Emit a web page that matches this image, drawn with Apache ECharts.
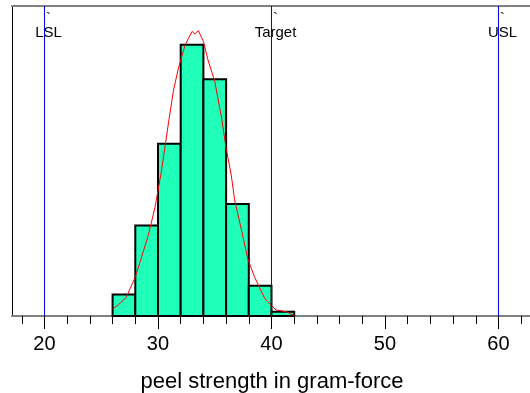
<!DOCTYPE html>
<html><head>
<meta charset="UTF-8">
<title>peel strength</title>
<script src="https://cdn.jsdelivr.net/npm/echarts@6/dist/echarts.min.js"></script>
</head>
<body style="margin:0;background:#fff;">
<div id="main" style="width:530px;height:393px;"></div>
<script type="text/javascript">
// histogram bins (edges) and counts
var binEdges = [26, 28, 30, 32, 34, 36, 38, 40, 42];
var counts = [5, 21, 40, 63, 55, 26, 7, 1];
// fitted curve
var curveX = [26.0, 26.5, 27.2, 28.0, 28.5, 29.15, 29.75, 30.3, 30.9, 31.35, 31.8, 32.4, 33.0, 33.25, 33.55, 34.0, 34.4, 35.0, 35.6, 36.0, 36.45, 36.75, 37.35, 37.9, 38.5, 39.4, 40.0, 40.4, 41.3, 42.0];
var curveY = [1.6, 2.6, 4.3, 9.1, 13.2, 18.8, 25.4, 33.6, 44.4, 52.2, 57.6, 63.0, 66.1, 65.5, 66.3, 63.8, 59.5, 54.5, 46.0, 39.0, 32.8, 27.0, 20.0, 13.4, 9.1, 4.1, 2.4, 1.4, 1.0, 0.1];
// spec limits
var specNames = ['LSL', 'Target', 'USL'];
var specValues = [20, 40, 60];
// axis ticks
var majorTicks = [20, 30, 40, 50, 60];
var minorTicks = [18, 20, 22, 24, 26, 28, 30, 32, 34, 36, 38, 40, 42, 44, 46, 48, 50, 52, 54, 56, 58, 60, 62];

var font = 'Liberation Sans, Arial, sans-serif';
var xMin = 17.137, xMax = 62.952, yMax = 72;
var bars = [];
for (var i = 0; i < counts.length; i++) {
	bars.push([binEdges[i], binEdges[i + 1], counts[i]]);
}
var curve = [];
for (var j = 0; j < curveX.length; j++) {
	curve.push([curveX[j], curveY[j]]);
}
var specs = [];
for (var k = 0; k < specValues.length; k++) {
	specs.push([specValues[k], 0]);
}

var option = {
	animation: false,
	grid: {left: 12, right: -2, top: 6, bottom: 77, show: false, outerBoundsMode: 'none', containLabel: false},
	xAxis: [{
		type: 'value', min: xMin, max: xMax, position: 'bottom',
		name: 'peel strength in gram-force', nameLocation: 'middle', nameGap: 55,
		nameTextStyle: {fontSize: 22, color: '#000', fontFamily: font},
		axisLine: {show: true, onZero: false, lineStyle: {color: '#808080', width: 2}},
		axisTick: {show: true, customValues: minorTicks, length: 8, lineStyle: {color: '#000', width: 1}},
		axisLabel: {show: true, customValues: majorTicks, fontSize: 20, color: '#000', fontFamily: font, margin: 18},
		splitLine: {show: false}
	}, {
		type: 'value', min: xMin, max: xMax, position: 'bottom',
		axisLine: {show: false},
		axisTick: {show: true, customValues: majorTicks, length: 13, lineStyle: {color: '#000', width: 1}},
		axisLabel: {show: false},
		splitLine: {show: false}
	}, {
		type: 'value', min: xMin, max: xMax, position: 'top',
		axisLine: {show: true, onZero: false, lineStyle: {color: '#808080', width: 2}},
		axisTick: {show: false}, axisLabel: {show: false}, splitLine: {show: false}
	}],
	yAxis: {
		type: 'value', min: 0, max: yMax,
		axisLine: {show: true, onZero: false, lineStyle: {color: '#000', width: 1}},
		axisTick: {show: false}, axisLabel: {show: false}, splitLine: {show: false}
	},
	series: [{
		type: 'custom',
		data: bars,
		encode: {x: [0, 1], y: 2},
		renderItem: function (params, api) {
			var p0 = api.coord([api.value(0), api.value(2)]);
			var p1 = api.coord([api.value(1), 0]);
			return {type: 'rect',
				shape: {x: p0[0], y: p0[1], width: p1[0] - p0[0], height: p1[1] - p0[1]},
				style: {fill: '#20ffba', stroke: '#000', lineWidth: 2}};
		},
		z: 2
	}, {
		type: 'line',
		data: curve,
		showSymbol: false, symbol: 'none',
		lineStyle: {color: '#ff0000', width: 1},
		z: 3
	}, {
		// spec limit lines with their labels
		type: 'custom',
		data: specs,
		encode: {x: 0, y: 1},
		silent: true,
		renderItem: function (params, api) {
			var top = api.coord([api.value(0), yMax]);
			var bottom = api.coord([api.value(0), 0]);
			return {type: 'group', children: [{
				type: 'line',
				shape: {x1: top[0], y1: top[1], x2: bottom[0], y2: bottom[1]},
				style: {stroke: '#0000ff', lineWidth: 1}
			}, {
				type: 'text',
				style: {text: '`\n' + specNames[params.dataIndex], x: top[0] + 4, y: top[1] + 34,
					align: 'center', verticalAlign: 'bottom', fontSize: 15, lineHeight: 14,
					fontFamily: font, fill: '#000'}
			}]};
		},
		z: 4
	}]
};
var chart = echarts.init(document.getElementById('main'));
chart.setOption(option);
</script>
</body>
</html>
